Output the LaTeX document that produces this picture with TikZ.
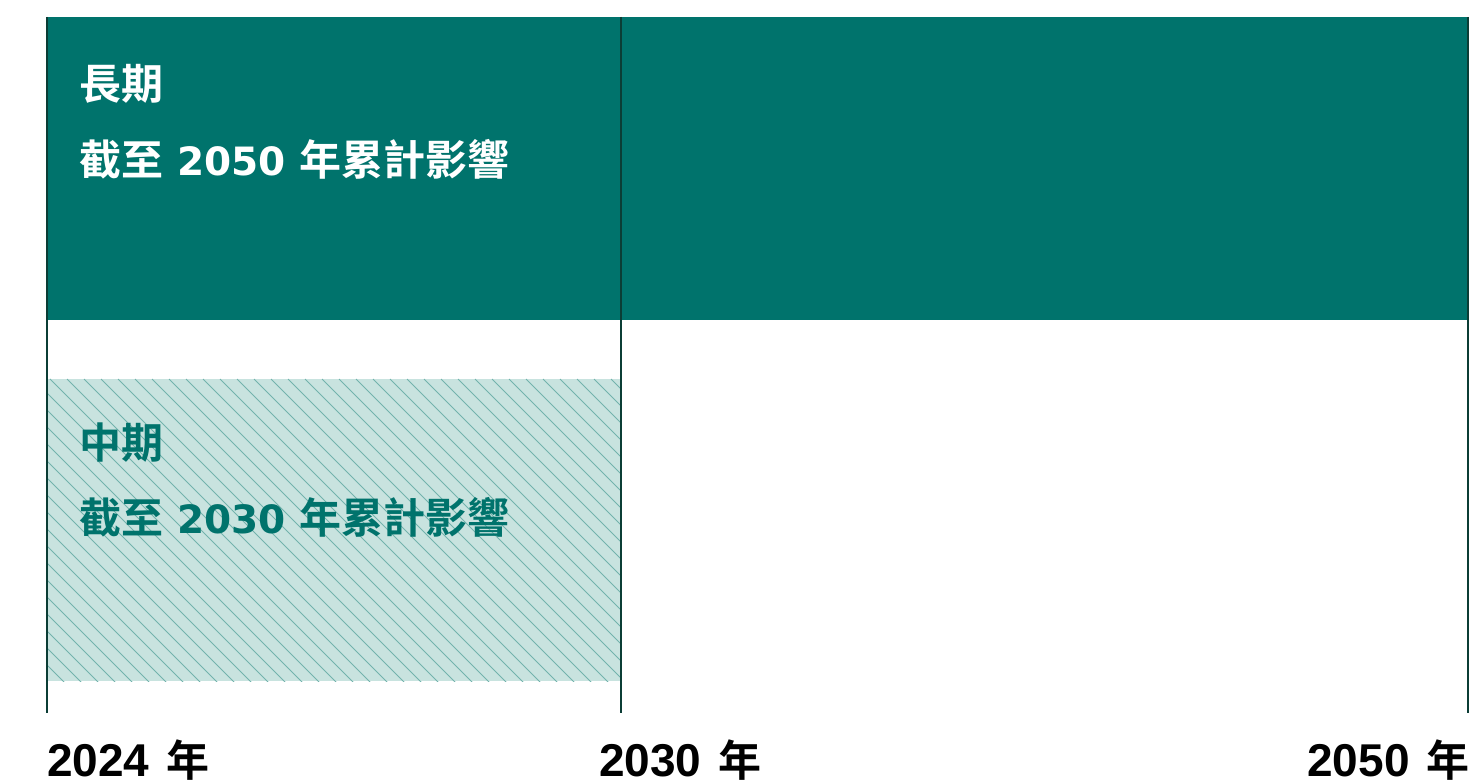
\documentclass[tikz,border=0pt]{standalone}
\usepackage{fontspec}
\setmainfont{Noto Sans CJK TC}[BoldFont={* Bold}]
\newfontfamily\cjkb{Noto Sans CJK TC Bold}
\newfontfamily\digtop{DejaVu Sans Bold}
\newfontfamily\digbot{Liberation Sans Bold}
\newcommand\dt[1]{{\digtop\fontsize{39}{47}\selectfont #1}}
\newcommand\db[1]{{\digbot\fontsize{46}{54}\selectfont #1}}
\definecolor{teal1}{HTML}{00736C}
\definecolor{hatchbg}{HTML}{C8E3DF}
\definecolor{hatchln}{HTML}{72B3AC}
\definecolor{axisln}{HTML}{0B3D35}
\tikzset{
  lbl/.style={font=\cjkb\fontsize{42}{50}\selectfont, inner sep=0pt, anchor=base west},
  yearlbl/.style={font=\cjkb\fontsize{43}{50}\selectfont, inner sep=0pt, text=black},
  vline/.style={draw=axisln, line width=2.5pt},
}
\begin{document}
\begin{tikzpicture}[x=1pt,y=-1pt]
\useasboundingbox[fill=white] (0,0) rectangle (1470,783);
% long-term box
\fill[teal1] (47,17) rectangle (1468,320);
\node (long) [lbl, text=white] at (79,100) {長期};
\node (longsub) [lbl, text=white] at (79,176) {截至\hspace{0.33em}\dt{2050}\hspace{0.33em}年累計影響};
% mid-term hatched box
\fill[hatchbg] (47,379) rectangle (621,681);
\begin{scope}
\clip (47,379) rectangle (621,681);
\foreach \i in {0,...,55} {
  \draw[hatchln, line width=1pt] ({47-320+17*\i},379) -- ++(320,320);
}
\end{scope}
\node (mid) [lbl, text=teal1] at (79,458) {中期};
\node (midsub) [lbl, text=teal1] at (79,533) {截至\hspace{0.33em}\dt{2030}\hspace{0.33em}年累計影響};
% axis lines
\coordinate (a1t) at (47,17);   \coordinate (a1b) at (47,713);
\coordinate (a2t) at (621,17);  \coordinate (a2b) at (621,713);
\coordinate (a3t) at (1468,17); \coordinate (a3b) at (1468,713);
\draw[vline] (a1t) -- (a1b);
\draw[vline] (a2t) -- (a2b);
\draw[vline] (a3t) -- (a3b);
% year labels
\node (y1) [yearlbl, anchor=base west] at (47,776) {\db{2024}\hspace{0.4em}年};
\node (y2) [yearlbl, anchor=base west] at (599,776) {\db{2030}\hspace{0.4em}年};
\node (y3) [yearlbl, anchor=base east] at (1470,776) {\db{2050}\hspace{0.4em}年};
\end{tikzpicture}
\end{document}
